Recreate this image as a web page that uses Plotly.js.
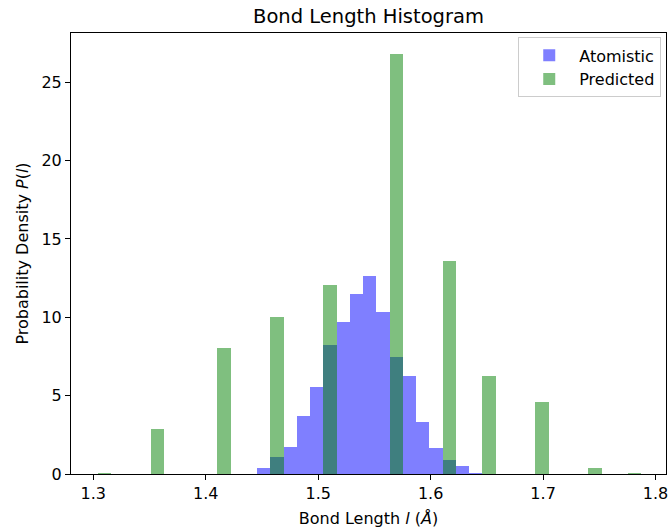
<!DOCTYPE html>
<html>
<head>
<meta charset="utf-8">
<script src="https://cdn.plot.ly/plotly-3.0.1.min.js"></script>
<style>html,body{margin:0;padding:0;background:#fff;}#chart{width:672px;height:529px;}</style>
</head>
<body>
<div id="chart"></div>
<script>
// Shared histogram bin width (Å)
const binWidth = 0.01178;

// Atomistic histogram: bin centres (Å) and probability densities
const atomisticBins = [1.4517, 1.4634, 1.4752, 1.4870, 1.4988, 1.5106, 1.5223, 1.5341, 1.5459,
                       1.5577, 1.5695, 1.5812, 1.5930, 1.6048, 1.6166, 1.6284, 1.6401];
const atomisticDensity = [0.41, 1.11, 1.73, 3.68, 5.55, 8.25, 9.73, 11.47, 12.66,
                          10.33, 7.46, 6.25, 3.34, 1.69, 0.92, 0.50, 0.08];

// Predicted histogram: bin centres (Å) and probability densities
const predictedBins = [1.3103, 1.3574, 1.4163, 1.4634, 1.5106, 1.5695, 1.6166, 1.6519, 1.6990, 1.7462, 1.7815];
const predictedDensity = [0.08, 2.85, 8.01, 10.03, 12.07, 26.8, 13.62, 6.27, 4.59, 0.39, 0.08];

const xTickVals = [1.3, 1.4, 1.5, 1.6, 1.7, 1.8];
const xTickText = ['1.3', '1.4', '1.5', '1.6', '1.7', '1.8'];
const yTickVals = [0, 5, 10, 15, 20, 25];

const FONT = 'DejaVu Sans, sans-serif';

const traces = [
  {
    type: 'bar',
    name: 'Atomistic',
    x: atomisticBins,
    y: atomisticDensity,
    width: atomisticBins.map(() => binWidth),
    marker: {color: 'rgba(0,0,255,0.5)', line: {width: 0}},
    hoverinfo: 'x+y'
  },
  {
    type: 'bar',
    name: 'Predicted',
    x: predictedBins,
    y: predictedDensity,
    width: predictedBins.map(() => binWidth),
    marker: {color: 'rgba(0,128,0,0.5)', line: {width: 0}},
    hoverinfo: 'x+y'
  }
];

const layout = {
  width: 672,
  height: 529,
  margin: {l: 71, r: 6, t: 33, b: 55, pad: 0},
  paper_bgcolor: '#ffffff',
  plot_bgcolor: '#ffffff',
  barmode: 'overlay',
  bargap: 0,
  font: {family: FONT, size: 16, color: '#000'},
  title: {
    text: 'Bond Length Histogram',
    font: {family: FONT, size: 19.5, color: '#000'},
    x: 0.5, xref: 'paper', xanchor: 'center',
    y: 1 - 16 / 529, yref: 'container', yanchor: 'middle'
  },
  xaxis: {
    range: [1.2802, 1.8093],
    tickvals: xTickVals,
    ticktext: xTickText,
    ticks: 'outside', ticklen: 5, tickwidth: 1, tickcolor: '#000',
    showline: true, linecolor: '#000', linewidth: 1, mirror: true,
    showgrid: false, zeroline: false,
    tickfont: {family: FONT, size: 16, color: '#000'},
    title: {text: 'Bond Length <i>l</i> (<i>Å</i>)', font: {family: FONT, size: 16, color: '#000'}, standoff: 10},
    automargin: false
  },
  yaxis: {
    range: [0, 28.14],
    tickvals: yTickVals,
    ticks: 'outside', ticklen: 5, tickwidth: 1, tickcolor: '#000',
    showline: true, linecolor: '#000', linewidth: 1, mirror: true,
    showgrid: false, zeroline: false,
    tickfont: {family: FONT, size: 16, color: '#000'},
    title: {text: 'Probability Density <i>P</i>(<i>l</i>)', font: {family: FONT, size: 16, color: '#000'}, standoff: 8},
    automargin: false
  },
  showlegend: true,
  legend: {
    x: 0.992, xanchor: 'right', xref: 'paper',
    y: 0.99, yanchor: 'top', yref: 'paper',
    bgcolor: 'rgba(255,255,255,0.8)',
    bordercolor: '#cccccc', borderwidth: 1,
    font: {family: FONT, size: 16, color: '#000'},
    traceorder: 'normal',
    itemwidth: 50
  }
};

Plotly.newPlot('chart', traces, layout, {displayModeBar: false, staticPlot: true});
</script>
</body>
</html>
